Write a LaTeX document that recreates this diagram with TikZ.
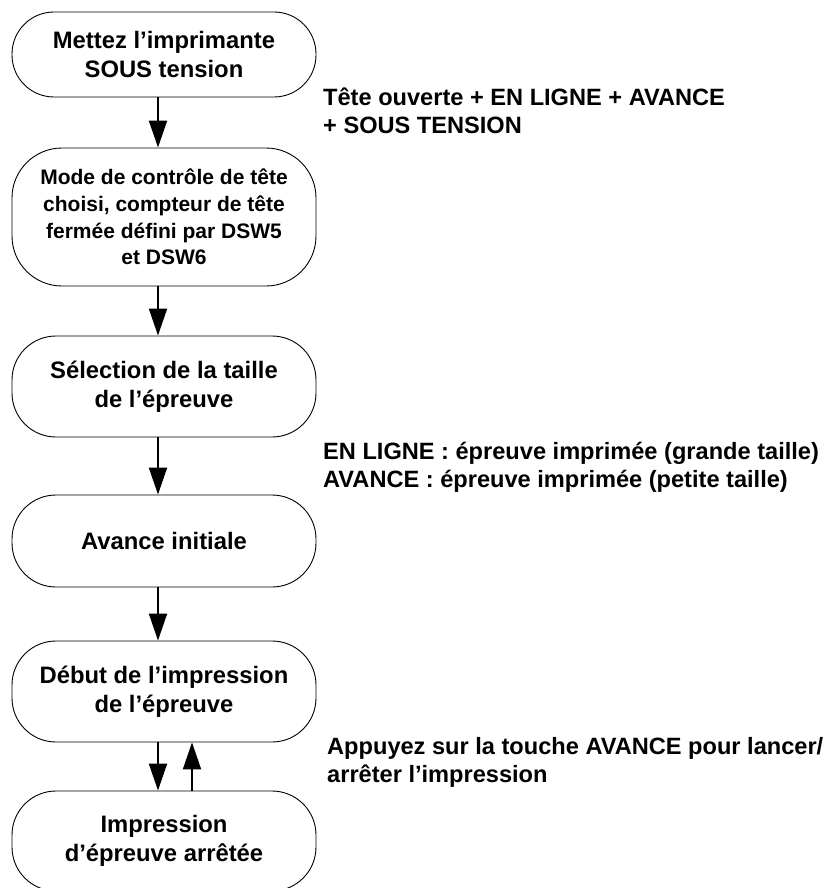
\documentclass[tikz,border=0pt]{standalone}
\usepackage{fontspec}
\setmainfont{Liberation Sans}
\usetikzlibrary{arrows.meta}
\begin{document}
\begin{tikzpicture}[x=1pt,y=-1pt,
  box/.style={draw, line width=0.9pt, rounded corners=44pt, minimum width=304pt, align=center, inner sep=0pt, font=\bfseries\fontsize{23.8}{28.5}\selectfont},
  flow/.style={line width=2pt, -{Triangle[length=27pt,width=18pt]}},
  note/.style={anchor=base west, align=left, inner sep=0pt, font=\bfseries\fontsize{23.6}{28}\selectfont}]
\useasboundingbox (0,0) rectangle (833,888);
\node[box, minimum height=85pt, rounded corners=42pt] (b1) at (164,54.5) {Mettez l’imprimante\\SOUS tension};
\node[box, minimum height=138pt, rounded corners=50pt, font=\bfseries\fontsize{21}{26.7}\selectfont] (b2) at (164,217) {Mode de contrôle de tête\\choisi, compteur de tête\\fermée défini par DSW5\\et DSW6};
\node[box, minimum height=101pt] (b3) at (164,386.5) {Sélection de la taille\\de l’épreuve};
\node[box, minimum height=92pt] (b4) at (164,541) {Avance initiale};
\node[box, minimum height=101pt] (b5) at (164,691.5) {Début de l’impression\\de l’épreuve};
\node[box, minimum height=100pt] (b6) at (164,841) {Impression\\d’épreuve arrêtée};
\draw[flow] ([xshift=-6pt]b1.south) -- ([xshift=-6pt]b2.north);
\draw[flow] ([xshift=-6pt]b2.south) -- ([xshift=-6pt]b3.north);
\draw[flow] ([xshift=-6pt]b3.south) -- ([xshift=-6pt]b4.north);
\draw[flow] ([xshift=-6pt]b4.south) -- ([xshift=-6pt]b5.north);
\draw[flow] ([xshift=-6pt]b5.south) -- ([xshift=-6pt]b6.north);
\draw[flow] ([xshift=28pt]b6.north) -- ([xshift=28pt]b5.south);
\node[note] (t1) at (323,133) {Tête ouverte + EN LIGNE + AVANCE\\+ SOUS TENSION};
\node[note] (t2) at (323,487) {EN LIGNE : épreuve imprimée (grande taille)\\AVANCE : épreuve imprimée (petite taille)};
\node[note] (t3) at (327,782) {Appuyez sur la touche AVANCE pour lancer/\\arrêter l’impression};
\end{tikzpicture}
\end{document}
